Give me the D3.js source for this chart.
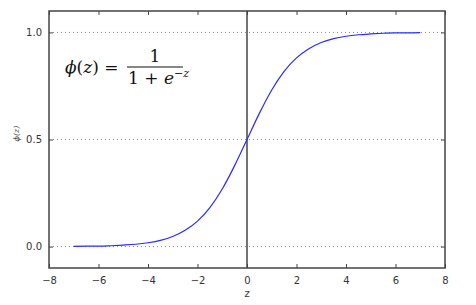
<!DOCTYPE html>
<html>
<head>
<meta charset="utf-8">
<script src="https://cdn.jsdelivr.net/npm/d3@7"></script>
<style>
  body { margin: 0; background: #fff; }
</style>
</head>
<body>
<svg id="chart" width="476" height="305" font-family="DejaVu Sans, sans-serif"></svg>
<script>
// ----------- DATA ------------
// z values along the curve
const zValues = [-7, -6.5, -6, -5.5, -5, -4.5, -4, -3.5, -3, -2.5, -2, -1.5, -1, -0.5,
    0, 0.5, 1, 1.5, 2, 2.5, 3, 3.5, 4, 4.5, 5, 5.5, 6, 6.5, 7];
// phi(z)
const phiValues = [0.001, 0.002, 0.002, 0.004, 0.007, 0.011, 0.018, 0.029, 0.047, 0.076, 0.119, 0.182, 0.269, 0.378,
    0.5, 0.622, 0.731, 0.818, 0.881, 0.924, 0.953, 0.971, 0.982, 0.989, 0.993, 0.996, 0.998, 0.998, 0.999];
const xTicks = [-8, -6, -4, -2, 0, 2, 4, 6, 8];
const yTicks = [0.0, 0.5, 1.0];
const xDomain = [-8, 8];
const yDomain = [-0.1, 1.1];

// ----------- LAYOUT ------------
const margin = { top: 11, right: 31, bottom: 37, left: 49 };
const width = 476 - margin.left - margin.right;
const height = 305 - margin.top - margin.bottom;
const axisColor = "#444";

const svg = d3.select("#chart")
    .append("g")
    .attr("transform", `translate(${margin.left},${margin.top})`);

const x = d3.scaleLinear().domain(xDomain).range([0, width]);
const y = d3.scaleLinear().domain(yDomain).range([height, 0]);

// dotted horizontal grid
svg.selectAll(".grid")
    .data(yTicks)
    .join("line")
    .attr("x1", 0)
    .attr("x2", width)
    .attr("y1", d => y(d))
    .attr("y2", d => y(d))
    .attr("stroke", "#888")
    .attr("stroke-width", 1)
    .attr("stroke-dasharray", "1,3");

// vertical line at z = 0
svg.append("line")
    .attr("x1", x(0)).attr("x2", x(0))
    .attr("y1", 0).attr("y2", height)
    .attr("stroke", axisColor)
    .attr("stroke-width", 1.5);

// sigmoid curve
const line = d3.line()
    .x((d, i) => x(zValues[i]))
    .y(d => y(d))
    .curve(d3.curveMonotoneX);

svg.append("path")
    .datum(phiValues)
    .attr("d", line)
    .attr("fill", "none")
    .attr("stroke", "#2a2aff")
    .attr("stroke-width", 1.2);

// axes with inward ticks (matplotlib classic look)
const tickLen = 4;
const styleAxis = g => {
    g.select(".domain").remove();
    g.selectAll(".tick line").attr("stroke", axisColor).attr("stroke-width", 1);
    g.selectAll(".tick text")
        .attr("fill", "#333")
        .attr("font-size", 10)
        .attr("font-family", "DejaVu Sans, sans-serif");
};
const fmtX = d => d < 0 ? "\u2212" + Math.abs(d) : d;

svg.append("g")
    .attr("transform", `translate(0,${height})`)
    .call(d3.axisBottom(x).tickValues(xTicks).tickFormat(fmtX).tickSizeInner(-tickLen).tickPadding(9))
    .call(styleAxis);

svg.append("g")
    .call(d3.axisTop(x).tickValues(xTicks).tickFormat("").tickSizeInner(-tickLen))
    .call(styleAxis);

svg.append("g")
    .call(d3.axisLeft(y).tickValues(yTicks).tickFormat(d3.format(".1f")).tickSizeInner(-tickLen).tickPadding(7))
    .call(styleAxis);

svg.append("g")
    .attr("transform", `translate(${width},0)`)
    .call(d3.axisRight(y).tickValues(yTicks).tickFormat("").tickSizeInner(-tickLen))
    .call(styleAxis);

// frame
svg.append("rect")
    .attr("width", width)
    .attr("height", height)
    .attr("fill", "none")
    .attr("stroke", axisColor)
    .attr("stroke-width", 1.5);

// axis labels
svg.append("text")
    .attr("x", x(0))
    .attr("y", height + 29)
    .attr("text-anchor", "middle")
    .attr("font-size", 10)
    .attr("fill", "#333")
    .text("z");

svg.append("text")
    .attr("transform", `translate(${-30},${y(0.5) - 6}) rotate(-90)`)
    .attr("text-anchor", "middle")
    .attr("font-size", 8)
    .attr("fill", "#444")
    .style("font-family", "DejaVu Serif, serif")
    .style("font-style", "italic")
    .text("\u03D5(z)");

// formula
const formula = svg.append("g")
    .style("font-family", "DejaVu Serif, serif")
    .attr("fill", "#111");

formula.append("text")
    .attr("x", 16)
    .attr("y", 62)
    .attr("font-size", 17)
    .html('<tspan font-style="italic">\u03D5</tspan>(<tspan font-style="italic">z</tspan>) =');

formula.append("line")
    .attr("x1", 78).attr("x2", 134)
    .attr("y1", 56).attr("y2", 56)
    .attr("stroke", "#111")
    .attr("stroke-width", 1.2);

formula.append("text")
    .attr("x", 106)
    .attr("y", 51)
    .attr("text-anchor", "middle")
    .attr("font-size", 17)
    .text("1");

formula.append("text")
    .attr("x", 79)
    .attr("y", 73)
    .attr("font-size", 17)
    .html('1 + <tspan font-style="italic">e</tspan><tspan font-size="11" dy="-7">\u2212<tspan font-style="italic">z</tspan></tspan>');
</script>
</body>
</html>
